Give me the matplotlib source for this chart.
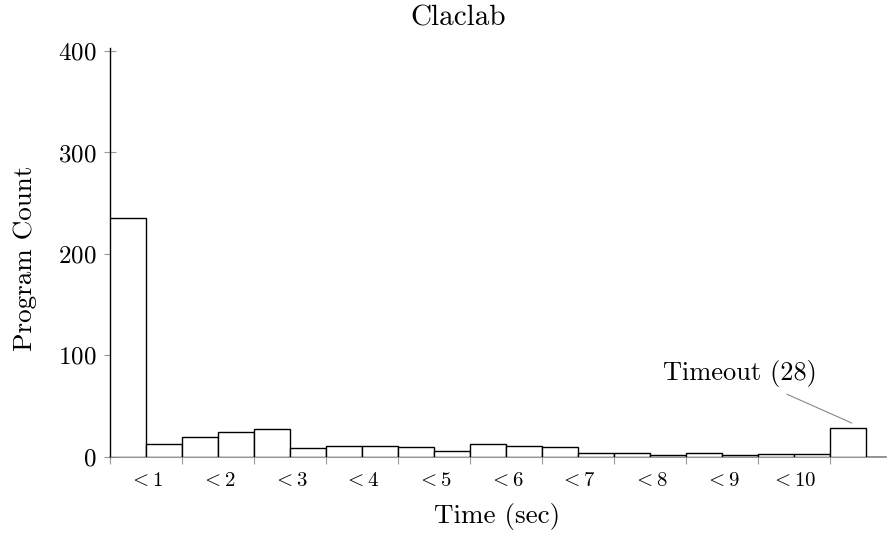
import matplotlib
matplotlib.use("Agg")
import matplotlib.pyplot as plt
import numpy as np

plt.rcParams['font.family'] = 'serif'
plt.rcParams['font.serif'] = ['cmr10']
plt.rcParams['mathtext.fontset'] = 'cm'
plt.rcParams['axes.formatter.use_mathtext'] = True

# program counts per half-second bin, last bin is the timeout bucket
counts = [235, 12, 19, 24, 27, 8, 10, 10, 9, 5,
          12, 10, 9, 3, 3, 1, 3, 1, 2, 2, 28]
bin_labels = [r"$<1$", r"$<2$", r"$<3$", r"$<4$", r"$<5$",
              r"$<6$", r"$<7$", r"$<8$", r"$<9$", r"$<10$"]
timeout_count = counts[-1]

fig = plt.figure(figsize=(8.94, 5.37), dpi=100)
ax = fig.add_axes([110 / 894, 1 - 456.5 / 537, 776 / 894, 408.4 / 537])

x = np.arange(len(counts))
ax.bar(x, counts, width=1.0, align='edge', facecolor='white',
       edgecolor='black', linewidth=1.0, zorder=3)

ax.set_xlim(0, 21.55)
ax.set_ylim(0, 403)

for s in ['top', 'right']:
    ax.spines[s].set_visible(False)
ax.spines['left'].set_color('black')
ax.spines['left'].set_linewidth(1.0)
ax.spines['bottom'].set_color('#808080')
ax.spines['bottom'].set_linewidth(1.2)

ax.set_yticks([0, 100, 200, 300, 400])
ax.tick_params(axis='y', direction='inout', length=9, width=0.8,
               color='#999999', labelsize=18, pad=5)
ax.set_xticks(np.arange(0, 21, 2))
ax.set_xticklabels([])
ax.tick_params(axis='x', which='major', direction='out', length=5,
               width=0.8, color='#999999')
ax.set_xticks(np.arange(1, 20, 2), minor=True)
ax.set_xticklabels(bin_labels, minor=True)
ax.tick_params(axis='x', which='minor', length=0, labelsize=15, pad=11)

fig.text(25 / 894, 1 - 258 / 537, 'Program Count', fontsize=19.5,
         rotation=90, ha='center', va='center')
fig.text(497 / 894, 1 - 517 / 537, 'Time (sec)', fontsize=19.5,
         ha='center', va='center')
fig.text(458 / 894, 1 - 18 / 537, 'Claclab', fontsize=21,
         ha='center', va='center')

ax.annotate(f'Timeout ({timeout_count})', xy=(20.6, 33),
            xytext=(17.5, 82), fontsize=19, ha='center', va='center',
            arrowprops=dict(arrowstyle='-', color='#888888', lw=0.8,
                            shrinkA=8, shrinkB=0))

fig.savefig('out.png', dpi=100)
